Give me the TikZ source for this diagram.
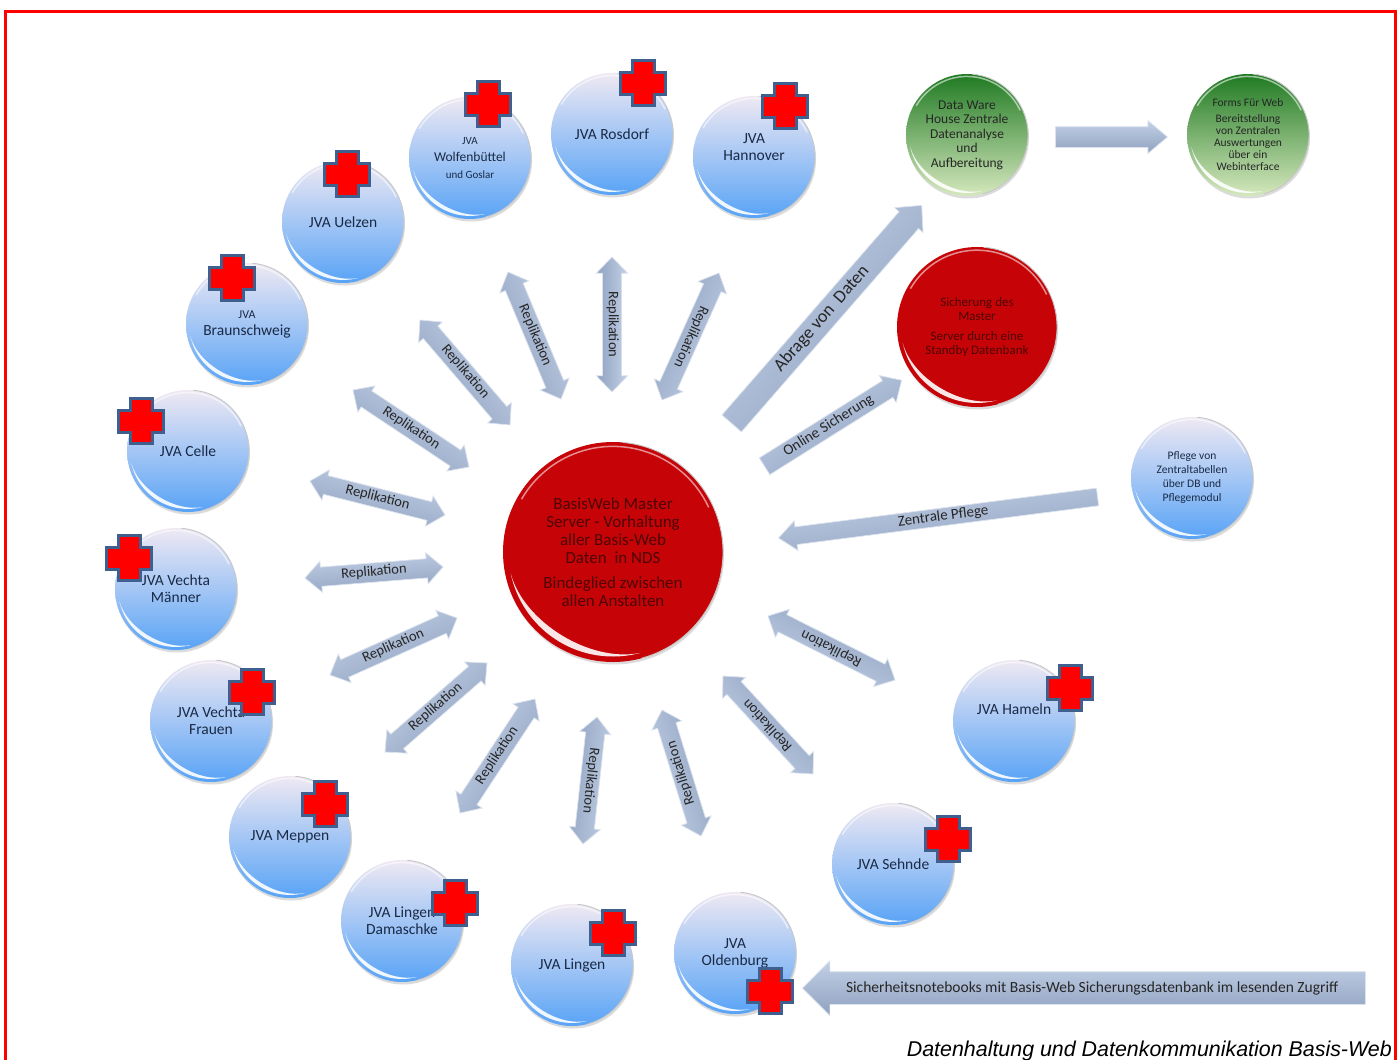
\documentclass[tikz,border=0pt]{standalone}
\usepackage{fontspec}
\setmainfont{Carlito}
\newfontfamily\capfont{Liberation Sans}
\usetikzlibrary{shapes.arrows,shadows}
\definecolor{jvatext}{HTML}{1A2A46}
\definecolor{redtext}{HTML}{4E0404}
\definecolor{crossblue}{HTML}{3F5F8F}
\definecolor{masterred}{HTML}{C60408}
\tikzset{
  ball/.style={circle,inner sep=0pt,align=center,text=jvatext,
    drop shadow={opacity=.28,shadow xshift=1pt,shadow yshift=-2.5pt}},
  jva/.style={ball,minimum size=122pt,top color=jvaTop,middle color=jvaMid,bottom color=jvaBot,font=\fontsize{15.5}{17}\selectfont},
  greenball/.style={ball,minimum size=122pt,top color=grTop,middle color=grMid,bottom color=grBot,text=black!85},
  redball/.style={ball,fill=masterred,text=redtext},
  repl/.style={double arrow,inner xsep=0pt,inner ysep=2.5pt,text height=10pt,text depth=3.5pt,
    double arrow head extend=6pt,double arrow tip angle=88,double arrow head indent=0pt,
    top color=arrTop,bottom color=arrBot,draw=arrEdge,line width=.7pt,text=black!85,
    font=\fontsize{14.5}{16}\selectfont},
  sarrow/.style={single arrow,inner xsep=0pt,single arrow head indent=0pt,anchor=tip,
    top color=arrTop,bottom color=arrBot,draw=arrEdge,line width=.7pt,text=black!85},
  crossmark/.style={fill=red,draw=crossblue,line width=3pt,line join=miter},
  frameline/.style={draw=red,line width=3pt},
  caption/.style={inner sep=0pt,anchor=base east,font=\capfont\itshape\fontsize{21.4}{23}\selectfont}
}
\definecolor{jvaTop}{HTML}{EFE9F3}
\definecolor{jvaMid}{HTML}{A9CEF3}
\definecolor{jvaBot}{HTML}{58A3F6}
\definecolor{grTop}{HTML}{1F7A22}
\definecolor{grMid}{HTML}{7FAF5E}
\definecolor{grBot}{HTML}{D6E8BE}
\definecolor{arrTop}{HTML}{C3D1E6}
\definecolor{arrBot}{HTML}{8FA1C0}
\definecolor{arrEdge}{HTML}{DCE3EE}
% double arrow: name, x1,y1 -> x2,y2 (text runs from 1 to 2)
\newcommand\replarrow[5]{%
  \pgfmathsetmacro\ang{atan2(-(#5-#3),#4-#2)}%
  \pgfmathsetmacro\len{veclen(#4-#2,#5-#3)}%
  \node[repl,rotate=\ang,shading angle=\ang,minimum height=\len pt] (#1) at ({(#2+#4)/2},{(#3+#5)/2}) {Replikation};}
% single arrow: options, name, tail x,y -> tip x,y, text
\newcommand\onearrow[7][]{%
  \pgfmathsetmacro\ang{atan2(-(#6-#4),#5-#3)}%
  \pgfmathsetmacro\len{veclen(#5-#3,#6-#4)}%
  \node[sarrow,rotate=\ang,shading angle=\ang,minimum height=\len pt,#1] (#2) at (#5,#6) {#7};}
% the same, pointing back against the reading direction: tip x,y <- tail x,y
\newcommand\backarrow[7][]{%
  \pgfmathsetmacro\ang{atan2(-(#6-#4),#5-#3)}%
  \pgfmathsetmacro\len{veclen(#5-#3,#6-#4)}%
  \node[sarrow,shape border rotate=180,rotate=\ang,shading angle=\ang,minimum height=\len pt,#1] (#2) at (#3,#4) {#7};}
% glass effect on a ball: name, radius
\newcommand\glass[2]{%
  \begin{scope}[shift={(#1.center)}]
    \pgfmathsetmacro\ra{#2*.95}\pgfmathsetmacro\rb{#2*1.03}\pgfmathsetmacro\rc{#2*.96}
    \fill[white,opacity=.9] (192:\ra pt) arc[start angle=192,end angle=285,radius=\ra pt]
      .. controls (258:\rb pt) and (218:\rb pt) .. cycle;
    \draw[black!22,line width=.9pt] (-75:#2 pt) arc[start angle=-75,end angle=85,radius=#2 pt];
    \draw[white,opacity=.55,line width=1.5pt] (25:\rc pt) arc[start angle=25,end angle=150,radius=\rc pt];
  \end{scope}}
\newcommand\redcross[2]{%
  \draw[crossmark,shift={(#1,#2)}] (-11,-22.5)--(11,-22.5)--(11,-11)--(22.5,-11)--(22.5,11)--(11,11)
    --(11,22.5)--(-11,22.5)--(-11,11)--(-22.5,11)--(-22.5,-11)--(-11,-11)--cycle;}
\begin{document}
\begin{tikzpicture}[x=1pt,y=-1pt]
\useasboundingbox (0,0) rectangle (1400,1060);
\fill[white] (0,0) rectangle (1400,1060);
\draw[frameline] (5,1062)--(5,11)--(1395,11)--(1395,1062);

% balls
\node[jva] (rosdorf) at (612,134) {JVA Rosdorf};
\node[jva] (wolfen) at (470,158) {\fontsize{11}{12.5}\selectfont JVA\\ \fontsize{13.5}{14}\selectfont Wolfenb\"uttel\\ \fontsize{11}{13}\selectfont und Goslar};
\node[jva] (hannover) at (754,157) {\raisebox{-3pt}[0pt][0pt]{\shortstack{JVA\\[3pt]Hannover}}};
\node[jva] (uelzen) at (343,222) {JVA Uelzen};
\node[jva] (braun) at (247,324) {\fontsize{12}{15}\selectfont JVA\\Braunschweig};
\node[jva] (celle) at (188,451) {JVA Celle};
\node[jva] (vmaenner) at (176,589) {JVA Vechta\\M\"anner};
\node[jva] (vfrauen) at (211,721) {JVA Vechta\\Frauen};
\node[jva] (meppen) at (290,837) {JVA Meppen};
\node[jva] (damaschke) at (402,921) {JVA Lingen\\Damaschke};
\node[jva] (lingen) at (572,965) {JVA Lingen};
\node[jva] (oldenburg) at (735,953) {JVA\\Oldenburg};
\node[jva] (sehnde) at (893,864) {JVA Sehnde};
\node[jva] (hameln) at (1014,721) {\raisebox{7pt}[0pt][0pt]{JVA Hameln}};
\node[jva,font=\fontsize{11.5}{14}\selectfont] (pflege) at (1192,478) {Pflege von\\Zentraltabellen\\\"uber DB und\\Pflegemodul};
\node[greenball,font=\fontsize{13.5}{14.5}\selectfont] (dwh) at (967,135) {Data Ware\\House Zentrale\\Datenanalyse\\und\\Aufbereitung};
\node[greenball,font=\fontsize{11.5}{12}\selectfont] (forms) at (1248,135) {Forms F\"ur Web\\[4pt]Bereitstellung\\von Zentralen\\Auswertungen\\\"uber ein\\Webinterface};
\node[redball,minimum size=160pt,font=\fontsize{13}{14}\selectfont] (standby) at (977,327) {Sicherung des\\Master\\[6pt]Server durch eine\\Standby Datenbank};
\node[redball,minimum size=220pt,font=\fontsize{17}{18}\selectfont] (master) at (613,552) {BasisWeb Master\\Server - Vorhaltung\\aller Basis-Web\\Daten\ \ in NDS\\[7pt]Bindeglied zwischen\\allen Anstalten};

\foreach \n in {rosdorf,wolfen,hannover,uelzen,braun,celle,vmaenner,vfrauen,meppen,damaschke,lingen,oldenburg,sehnde,hameln,pflege,dwh,forms}{\glass{\n}{61}}
\glass{standby}{80}
\glass{master}{110}

% replication arrows
\replarrow{r1}{612}{257}{612}{392}
\replarrow{r2}{508}{272}{561}{399}
\replarrow{r3}{719}{273}{662}{400}
\replarrow{r4}{420}{320}{510}{425}
\replarrow{r5}{353}{390}{469}{467}
\replarrow{r6}{310}{481}{445}{515}
\replarrow{r7}{305}{578}{443}{567}
\replarrow{r8}{330}{675}{457}{618}
\replarrow{r9}{385}{752}{487}{663}
\replarrow{r10}{460}{813}{535}{699}
\replarrow{r11}{597}{717}{583}{844}
\replarrow{r12}{701}{836}{662}{710}
\replarrow{r13}{813}{774}{723}{676}
\replarrow{r14}{895}{680}{768}{616}

% one-way arrows
\onearrow[inner ysep=3.5pt,text height=13pt,text depth=5pt,single arrow head extend=6pt,single arrow tip angle=88,font=\fontsize{18}{20}\selectfont]{abfrage}{732}{423}{922}{205}{Abrage von\ \ Daten}
\onearrow[inner ysep=2pt,text height=11pt,text depth=4pt,single arrow head extend=6pt,single arrow tip angle=88,font=\fontsize{15}{17}\selectfont]{online}{765}{466}{902}{380}{Online Sicherung}
\backarrow[inner ysep=1pt,text height=11pt,text depth=4pt,single arrow head extend=6pt,single arrow tip angle=80,font=\fontsize{15}{17}\selectfont]{zentral}{778}{538}{1097}{497}{Zentrale Pflege}
\onearrow[inner ysep=1pt,text height=14pt,text depth=4pt,single arrow head extend=6pt,single arrow tip angle=80]{pfeil}{1056}{137}{1168}{137}{}
\backarrow[inner ysep=8pt,text height=12pt,text depth=4pt,single arrow head extend=11pt,single arrow tip angle=90,font=\fontsize{15.5}{17}\selectfont]{notebooks}{802}{988}{1365}{988}{Sicherheitsnotebooks mit Basis-Web Sicherungsdatenbank im lesenden Zugriff}

% crosses
\redcross{488}{104}
\redcross{643}{83}
\redcross{785}{106}
\redcross{347}{174}
\redcross{232}{278}
\redcross{141}{421}
\redcross{129}{558}
\redcross{252}{692}
\redcross{325}{804}
\redcross{455}{903}
\redcross{613}{933}
\redcross{770}{991}
\redcross{948}{839}
\redcross{1070}{688}

\node[caption] (cap) at (1392,1056) {Datenhaltung und Datenkommunikation Basis-Web};
\end{tikzpicture}
\end{document}
